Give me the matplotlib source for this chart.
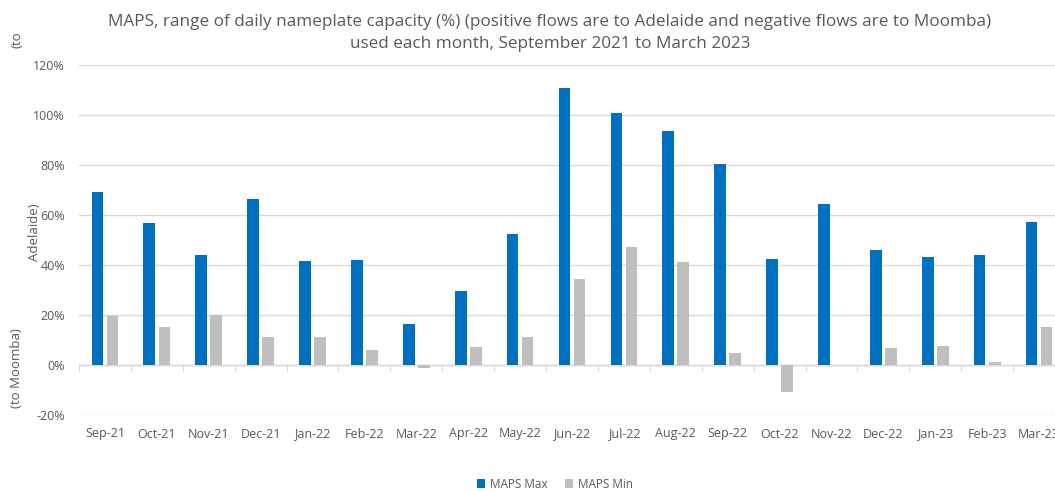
import numpy as np
import matplotlib
matplotlib.use("Agg")
import matplotlib.pyplot as plt
from matplotlib.ticker import PercentFormatter, FixedLocator

# Monthly MAPS capacity usage (% of daily nameplate capacity)
months = ["Sep-21", "Oct-21", "Nov-21", "Dec-21", "Jan-22", "Feb-22", "Mar-22",
          "Apr-22", "May-22", "Jun-22", "Jul-22", "Aug-22", "Sep-22", "Oct-22",
          "Nov-22", "Dec-22", "Jan-23", "Feb-23", "Mar-23"]
maps_max = [69.3, 56.7, 44.0, 66.3, 41.5, 42.0, 16.4, 29.6, 52.3, 111.0,
            100.7, 93.6, 80.4, 42.3, 64.5, 45.9, 43.1, 43.9, 57.1]
maps_min = [19.6, 15.3, 20.1, 11.3, 11.3, 6.0, -1.0, 7.3, 11.3, 34.3,
            47.1, 41.2, 4.9, -10.9, 0.0, 6.9, 7.7, 1.3, 15.3]
y_ticks = [-20, 0, 20, 40, 60, 80, 100, 120]

BLUE = "#0070C0"
GREY = "#BFBFBF"
TEXT = "#595959"
GRID = "#D9D9D9"

plt.rcParams["font.family"] = ["Open Sans", "DejaVu Sans"]
plt.rcParams["axes.unicode_minus"] = False

W, H = 1055, 491
fig = plt.figure(figsize=(W / 100, H / 100), dpi=100)
ax = fig.add_axes([79 / W, (H - 415) / H, 986 / W, 350 / H])

x = np.arange(len(months))
bw = 0.225
off = 0.145
ax.bar(x - off, maps_max, width=bw, color=BLUE, label="MAPS Max", zorder=3)
ax.bar(x + off, maps_min, width=bw, color=GREY, label="MAPS Min", zorder=3)

ax.set_xlim(-0.5, len(months) - 0.5)
ax.set_ylim(-20, 120)
ax.set_yticks(y_ticks)
ax.yaxis.set_major_formatter(PercentFormatter(decimals=0))
ax.grid(axis="y", color=GRID, linewidth=1, zorder=0)
ax.axhline(0, color=GRID, linewidth=1, zorder=2)

for s in ax.spines.values():
    s.set_visible(False)

ax.set_xticks(x)
ax.set_xticklabels(months)
ax.tick_params(axis="x", length=0, pad=9, labelsize=9, labelcolor=TEXT)
ax.tick_params(axis="y", length=0, pad=10, labelsize=9, labelcolor=TEXT)

# category boundary tick marks hanging off the zero line
sec = ax.secondary_xaxis(20 / 140)
sec.spines["bottom"].set_visible(False)
sec.xaxis.set_major_locator(FixedLocator(np.arange(-0.5, len(months), 1.0)))
sec.tick_params(axis="x", direction="out", length=4, color=GRID, labelbottom=False)

# wrapped y-axis label pieces
fig.text(17 / W, 1 - 368 / H, "(to Moomba)", rotation=90, ha="center", va="center",
         fontsize=9.5, color=TEXT)
fig.text(34 / W, 1 - 232 / H, "Adelaide)", rotation=90, ha="center", va="center",
         fontsize=9.5, color=TEXT)
fig.text(17 / W, 1 - 40 / H, "(to", rotation=90, ha="center", va="center",
         fontsize=9.5, color=TEXT)

fig.text(550 / W, 1 - 33 / H,
         "MAPS, range of daily nameplate capacity (%) (positive flows are to Adelaide and negative flows are to Moomba)\nused each month, September 2021 to March 2023",
         ha="center", va="center", fontsize=12.3, color=TEXT, linespacing=1.55)

fig.legend(loc="center", bbox_to_anchor=(555 / W, 1 - 484 / H), ncol=2, frameon=False,
           fontsize=8.5, labelcolor=TEXT, handlelength=0.7, handleheight=0.7,
           handletextpad=0.4, columnspacing=1.5)

fig.savefig("out.png", dpi=100)
